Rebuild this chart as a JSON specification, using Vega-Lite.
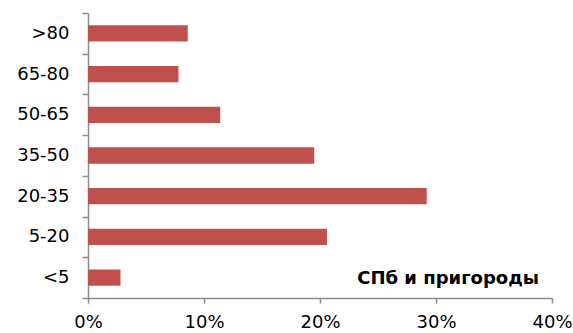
{
  "$schema": "https://vega.github.io/schema/vega-lite/v6.json",
  "width": 464,
  "height": 285,
  "autosize": {"type": "none"},
  "padding": {"left": 88, "top": 13, "right": 21, "bottom": 35},
  "background": "white",
  "config": {
    "view": {"stroke": null},
    "font": "DejaVu Sans",
    "axis": {
      "domainColor": "#8c8c8c",
      "domainWidth": 1.5,
      "tickColor": "#8c8c8c",
      "tickWidth": 1.5,
      "tickSize": 6,
      "labelColor": "#000000",
      "labelFont": "DejaVu Sans",
      "labelFontSize": 18,
      "grid": false,
      "title": null
    }
  },
  "data": {
    "values": [
      {"group": ">80", "share": 8.6},
      {"group": "65-80", "share": 7.8},
      {"group": "50-65", "share": 11.4},
      {"group": "35-50", "share": 19.5},
      {"group": "20-35", "share": 29.2},
      {"group": "5-20", "share": 20.6},
      {"group": "<5", "share": 2.8}
    ]
  },
  "layer": [
    {
      "mark": {"type": "bar", "color": "#C0504D", "height": {"band": 0.4}},
      "encoding": {
        "y": {
          "field": "group",
          "type": "nominal",
          "sort": null,
          "scale": {"paddingInner": 0, "paddingOuter": 0},
          "axis": {"tickBand": "extent", "labelPadding": 13}
        },
        "x": {
          "field": "share",
          "type": "quantitative",
          "scale": {"domain": [0, 40], "nice": false},
          "axis": {
            "values": [0, 10, 20, 30, 40],
            "labelExpr": "datum.value + '%'",
            "tickSize": 5,
            "labelPadding": 10,
            "labelFlush": false
          }
        }
      }
    },
    {
      "data": {"values": [{"label": "СПб и пригороды", "group": "<5", "share": 40}]},
      "mark": {
        "type": "text",
        "align": "right",
        "baseline": "middle",
        "dx": -13,
        "dy": 1,
        "font": "DejaVu Sans",
        "fontWeight": "bold",
        "fontSize": 18,
        "color": "#000000"
      },
      "encoding": {
        "y": {"field": "group", "type": "nominal", "sort": null},
        "x": {"field": "share", "type": "quantitative"},
        "text": {"field": "label"}
      }
    }
  ]
}
